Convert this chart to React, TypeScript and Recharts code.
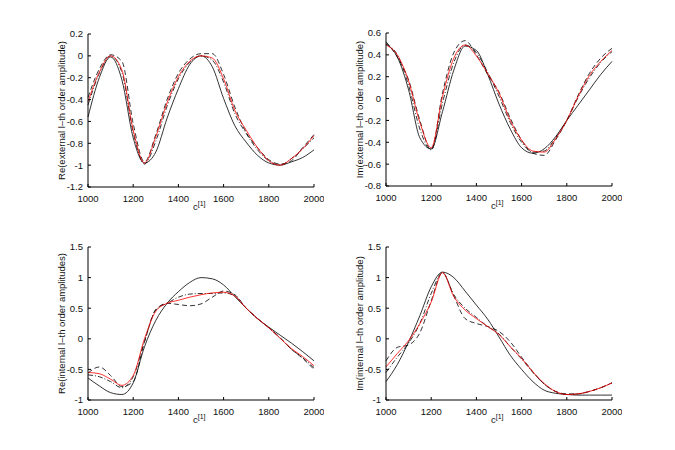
import { Label, Line, LineChart, XAxis, YAxis } from 'recharts';

// sample positions along c^[1]
const cValues = [
  1000, 1050, 1100, 1150, 1200, 1250, 1300, 1350, 1400, 1450, 1500,
  1550, 1600, 1650, 1700, 1750, 1800, 1850, 1900, 1950, 2000,
];
const xTicks = [1000, 1200, 1400, 1600, 1800, 2000];

// Re(external)
const reExtExact = [-0.56, -0.2, -0.01, -0.22, -0.75, -0.98, -0.88, -0.57, -0.3, -0.08, 0, -0.1, -0.39, -0.64, -0.79, -0.91, -0.98, -1.0, -0.97, -0.93, -0.86];
const reExtRed = [-0.42, -0.15, 0, -0.13, -0.68, -0.98, -0.74, -0.43, -0.19, -0.05, 0, -0.02, -0.21, -0.5, -0.68, -0.84, -0.96, -1.0, -0.94, -0.85, -0.73];
const reExtDash = [-0.38, -0.12, 0.01, -0.05, -0.62, -0.97, -0.72, -0.4, -0.16, -0.03, 0.02, 0.02, -0.17, -0.47, -0.7, -0.84, -0.95, -0.99, -0.96, -0.84, -0.72];
const reExtDot = [-0.45, -0.16, 0, -0.15, -0.7, -0.99, -0.78, -0.46, -0.21, -0.06, 0, -0.04, -0.24, -0.53, -0.71, -0.86, -0.96, -1.0, -0.94, -0.85, -0.75];
const reExtTicks = [-1.2, -1, -0.8, -0.6, -0.4, -0.2, 0, 0.2];

// Im(external)
const imExtExact = [0.5, 0.38, 0.08, -0.36, -0.46, -0.12, 0.26, 0.48, 0.44, 0.22, -0.05, -0.28, -0.45, -0.5, -0.46, -0.35, -0.2, -0.06, 0.08, 0.22, 0.34];
const imExtRed = [0.49, 0.4, 0.16, -0.22, -0.45, 0.02, 0.37, 0.49, 0.39, 0.23, 0.05, -0.2, -0.38, -0.48, -0.49, -0.37, -0.2, 0.02, 0.21, 0.34, 0.44];
const imExtDash = [0.52, 0.38, 0.17, -0.2, -0.47, 0.05, 0.42, 0.53, 0.4, 0.22, 0.06, -0.18, -0.38, -0.5, -0.52, -0.38, -0.2, 0.03, 0.23, 0.37, 0.46];
const imExtDot = [0.5, 0.4, 0.12, -0.28, -0.47, -0.04, 0.33, 0.49, 0.42, 0.24, 0.02, -0.22, -0.4, -0.49, -0.48, -0.36, -0.2, 0.01, 0.19, 0.33, 0.43];
const imExtTicks = [-0.8, -0.6, -0.4, -0.2, 0, 0.2, 0.4, 0.6];

// Re(internal)
const reIntExact = [-0.64, -0.77, -0.88, -0.91, -0.72, -0.13, 0.3, 0.58, 0.77, 0.92, 1.0, 0.98, 0.88, 0.69, 0.5, 0.33, 0.19, 0.06, -0.07, -0.21, -0.36];
const reIntRed = [-0.55, -0.57, -0.66, -0.76, -0.6, 0.0, 0.45, 0.58, 0.63, 0.68, 0.72, 0.75, 0.76, 0.7, 0.5, 0.33, 0.18, 0.01, -0.16, -0.29, -0.44];
const reIntDash = [-0.56, -0.46, -0.6, -0.78, -0.7, -0.05, 0.47, 0.58, 0.56, 0.54, 0.57, 0.68, 0.78, 0.72, 0.5, 0.33, 0.18, 0.02, -0.17, -0.32, -0.5];
const reIntDot = [-0.59, -0.62, -0.7, -0.8, -0.62, -0.04, 0.48, 0.58, 0.68, 0.73, 0.74, 0.74, 0.75, 0.7, 0.5, 0.33, 0.18, 0.01, -0.17, -0.31, -0.47];
const intTicks = [-1, -0.5, 0, 0.5, 1, 1.5];

// Im(internal)
const imIntExact = [-0.7, -0.42, -0.05, 0.38, 0.85, 1.09, 1.0, 0.78, 0.55, 0.32, 0.03, -0.27, -0.5, -0.7, -0.84, -0.89, -0.91, -0.92, -0.92, -0.92, -0.92];
const imIntRed = [-0.46, -0.24, -0.03, 0.25, 0.6, 1.08, 0.69, 0.47, 0.33, 0.2, 0.07, -0.13, -0.32, -0.54, -0.73, -0.86, -0.91, -0.9, -0.86, -0.8, -0.72];
const imIntDash = [-0.36, -0.14, -0.1, 0.1, 0.62, 1.08, 0.7, 0.33, 0.25, 0.2, 0.12, -0.05, -0.3, -0.54, -0.74, -0.86, -0.9, -0.9, -0.86, -0.8, -0.72];
const imIntDot = [-0.55, -0.3, -0.07, 0.25, 0.74, 1.08, 0.72, 0.5, 0.35, 0.2, 0.08, -0.13, -0.33, -0.55, -0.74, -0.86, -0.91, -0.9, -0.86, -0.8, -0.72];

const FONT = 'Liberation Sans, Arial, sans-serif';
const noTick = () => <g />;

const yLabel = (text: string) => (props: any) => {
  const { x, y, height } = props.viewBox;
  const cx = x + 18;
  const cy = y + height / 2;
  return (
    <text x={cx} y={cy} transform={`rotate(-90 ${cx} ${cy})`} textAnchor="middle" dominantBaseline="central" fontSize={9.5} fill="#111">
      {text}
    </text>
  );
};

const xLabel = (props: any) => {
  const { x, y, width } = props.viewBox;
  return (
    <text x={x + width / 2 - 8} y={y + 23} fontSize={9.5} fill="#111">
      c<tspan dy={-4} fontSize={7}>[1]</tspan>
    </text>
  );
};

interface PanelProps {
  left: number;
  top: number;
  label: string;
  domain: [number, number];
  yTicks: number[];
  exact: number[];
  red: number[];
  dash: number[];
  dot: number[];
}

const Panel = ({ left, top, label, domain, yTicks, exact, red, dash, dot }: PanelProps) => {
  const data = cValues.map((c, i) => ({ c, exact: exact[i], red: red[i], dash: dash[i], dot: dot[i] }));
  const tickStyle = { fontSize: 9.5, fill: '#111' };
  return (
    <div style={{ position: 'absolute', left, top }}>
      <LineChart width={281} height={193} data={data} margin={{ top: 10, right: 10, left: 0, bottom: 0 }}>
        <XAxis dataKey="c" type="number" domain={[1000, 2000]} ticks={xTicks} stroke="#000" tickSize={-3} tickMargin={11} tick={tickStyle} height={30}>
          <Label content={xLabel} />
        </XAxis>
        <XAxis xAxisId="top" orientation="top" dataKey="c" type="number" domain={[1000, 2000]} ticks={xTicks} stroke="#000" tickSize={-3} tick={noTick} height={0} />
        <YAxis type="number" domain={domain} ticks={yTicks} stroke="#000" tickSize={-3} tickMargin={8} tick={tickStyle} width={45} allowDataOverflow>
          <Label content={yLabel(label)} />
        </YAxis>
        <YAxis yAxisId="right" orientation="right" type="number" domain={domain} ticks={yTicks} stroke="#000" tickSize={-3} tick={noTick} width={0} />
        <Line dataKey="exact" type="monotone" stroke="#000" strokeWidth={0.8} dot={false} isAnimationActive={false} />
        <Line dataKey="dash" type="monotone" stroke="#000" strokeWidth={0.8} strokeDasharray="5 3" dot={false} isAnimationActive={false} />
        <Line dataKey="dot" type="monotone" stroke="#000" strokeWidth={0.8} strokeDasharray="5 2 1 2" dot={false} isAnimationActive={false} />
        <Line dataKey="red" type="monotone" stroke="#ff0000" strokeWidth={0.8} dot={false} isAnimationActive={false} />
      </LineChart>
    </div>
  );
};

export default function App() {
  return (
    <div style={{ position: 'absolute', left: 0, top: 0, width: 675, height: 450, background: '#fff', fontFamily: FONT }}>
      <Panel left={43} top={24} label="Re(external l–th order amplitude)" domain={[-1.2, 0.2]} yTicks={reExtTicks} exact={reExtExact} red={reExtRed} dash={reExtDash} dot={reExtDot} />
      <Panel left={341} top={23} label="Im(external l–th order amplitude)" domain={[-0.8, 0.6]} yTicks={imExtTicks} exact={imExtExact} red={imExtRed} dash={imExtDash} dot={imExtDot} />
      <Panel left={43} top={237} label="Re(internal l–th order amplitudes)" domain={[-1, 1.5]} yTicks={intTicks} exact={reIntExact} red={reIntRed} dash={reIntDash} dot={reIntDot} />
      <Panel left={341} top={237} label="Im(internal l–th order amplitude)" domain={[-1, 1.5]} yTicks={intTicks} exact={imIntExact} red={imIntRed} dash={imIntDash} dot={imIntDot} />
    </div>
  );
}
